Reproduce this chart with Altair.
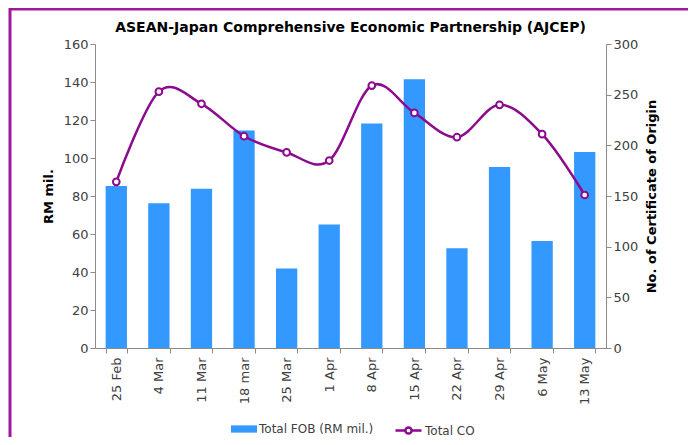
import altair as alt
import pandas as pd

dates = ["25 Feb", "4 Mar", "11 Mar", "18 mar", "25 Mar", "1 Apr",
         "8 Apr", "15 Apr", "22 Apr", "29 Apr", "6 May", "13 May"]
fob = [85.3, 76.2, 83.8, 114.5, 41.8, 65.0, 118.2, 141.4, 52.5, 95.2, 56.3, 103.2]
co = [164, 253, 241, 209, 193, 185, 259, 232, 208, 240, 211, 151]

BLUE = "#3399FF"
PURPLE = "#8B0A8E"
FRAME = "#A0189F"
FONT = "DejaVu Sans"
GRAY = "#404040"

df = pd.DataFrame({"date": dates, "fob": fob, "co": co})

x = alt.X("date:N", sort=dates, title=None,
          scale=alt.Scale(paddingInner=0.5, paddingOuter=0.25),
          axis=alt.Axis(labelAngle=-90, tickBand="extent", labelFontSize=13,
                        labelColor=GRAY, domainColor="#8c8c8c", tickColor="#8c8c8c",
                        tickSize=5, labelPadding=4, labelFont=FONT))

right_axis = alt.Axis(values=list(range(0, 301, 50)), grid=False, orient="right",
                      labelFontSize=13, labelColor=GRAY, titleFontSize=13,
                      titleFontWeight="bold", titleColor="black", titleAngle=270,
                      titleBaseline="top",
                      domainColor="#8c8c8c", tickColor="#8c8c8c", tickSize=5,
                      titlePadding=8, labelFont=FONT, titleFont=FONT)

bars = alt.Chart(df).mark_bar().transform_calculate(
    s1="'Total FOB (RM mil.)'"
).encode(
    x=x,
    y=alt.Y("fob:Q", title="RM mil.",
            scale=alt.Scale(domain=[0, 160], nice=False),
            axis=alt.Axis(values=list(range(0, 161, 20)), grid=False, orient="left",
                          labelFontSize=13, labelColor=GRAY, titleFontSize=13,
                          titleFontWeight="bold", titleColor="black",
                          domainColor="#8c8c8c", tickColor="#8c8c8c", tickSize=5,
                          titlePadding=8, labelFont=FONT, titleFont=FONT)),
    fill=alt.Fill("s1:N", scale=alt.Scale(range=[BLUE]),
                  legend=alt.Legend(title=None, orient="none", legendX=136, legendY=372,
                                    symbolType="M-1,-0.28H1V0.28H-1Z",
                                    symbolSize=676, symbolStrokeWidth=0, labelOffset=2,
                                    labelFontSize=12, labelColor=GRAY, labelFont=FONT)),
)

line = alt.Chart(df).mark_line(interpolate="cardinal", strokeWidth=2.5).transform_calculate(
    s2="'Total CO'"
).encode(
    x=x,
    y=alt.Y("co:Q", title="No. of Certificate of Origin",
            scale=alt.Scale(domain=[0, 300], nice=False), axis=right_axis),
    stroke=alt.Stroke("s2:N", scale=alt.Scale(range=[PURPLE]),
                      legend=alt.Legend(title=None, orient="none", legendX=299, legendY=372,
                                        symbolType="M-1,0H-0.24A0.24,0.24 0 1,1 0.24,0A0.24,0.24 0 1,1 -0.24,0M0.24,0H1",
                                        symbolSize=676, symbolStrokeWidth=2.5,
                                        symbolFillColor="white", labelOffset=2,
                                        labelFontSize=12, labelColor=GRAY, labelFont=FONT)),
)

points = alt.Chart(df).mark_point(filled=True, fill="white", stroke=PURPLE,
                                  strokeWidth=2, size=45, opacity=1).encode(
    x=x,
    y=alt.Y("co:Q", title="No. of Certificate of Origin",
            scale=alt.Scale(domain=[0, 300], nice=False), axis=right_axis),
)

frame = alt.Chart(pd.DataFrame({"a": [0]})).mark_rect(
    fill=None, stroke=FRAME, strokeWidth=3
).encode(x=alt.value(-85), x2=alt.value(600), y=alt.value(-35), y2=alt.value(440))

chart = alt.layer(
    frame, bars, alt.layer(line, points)
).resolve_scale(y="independent", fill="independent", stroke="independent").properties(
    width=511, height=304,
    title=alt.TitleParams("ASEAN-Japan Comprehensive Economic Partnership (AJCEP)",
                          fontSize=14, font=FONT, fontWeight="bold", color="black",
                          offset=-27, anchor="middle"),
    autosize=alt.AutoSizeParams(type="none"),
    padding={"left": 87, "top": 36, "right": 82, "bottom": 89},
).configure_view(stroke=None)

chart.save("out.html", embed_options={"renderer": "svg", "actions": False})
